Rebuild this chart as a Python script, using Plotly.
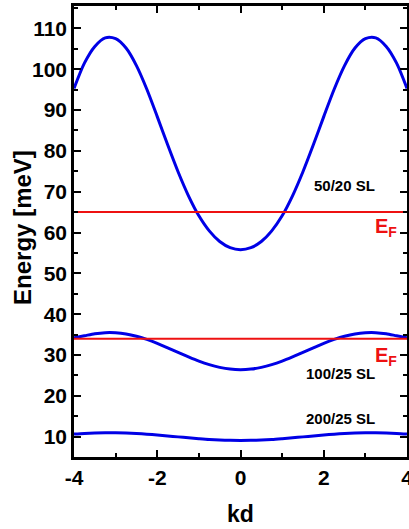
import plotly.graph_objects as go

kd = [-4.0, -3.75, -3.5, -3.25, -3.0, -2.75, -2.5, -2.25, -2.0, -1.75, -1.5, -1.25, -1.0, -0.75, -0.5, -0.25,
      0.0, 0.25, 0.5, 0.75, 1.0, 1.25, 1.5, 1.75, 2.0, 2.25, 2.5, 2.75, 3.0, 3.25, 3.5, 3.75, 4.0]
e_50_20 = [95.3, 101.5, 105.6, 107.7, 107.5, 105.2, 100.9, 95.1, 88.4, 81.5, 74.9, 69.0, 64.1, 60.4, 57.8, 56.3,
           55.8, 56.3, 57.8, 60.4, 64.1, 69.0, 74.9, 81.5, 88.4, 95.1, 100.9, 105.2, 107.5, 107.7, 105.6, 101.5, 95.3]
e_100_25 = [34.2, 34.7, 35.2, 35.47, 35.45, 35.16, 34.6, 33.8, 32.84, 31.76, 30.63, 29.52, 28.49, 27.62, 26.96, 26.54,
            26.4, 26.54, 26.96, 27.62, 28.49, 29.52, 30.63, 31.76, 32.84, 33.8, 34.6, 35.16, 35.45, 35.47, 35.2, 34.7, 34.2]
e_200_25 = [10.62, 10.78, 10.89, 10.94, 10.94, 10.88, 10.76, 10.6, 10.4, 10.17, 9.93, 9.7, 9.49, 9.3, 9.17, 9.08,
            9.05, 9.08, 9.17, 9.3, 9.49, 9.7, 9.93, 10.17, 10.4, 10.6, 10.76, 10.88, 10.94, 10.94, 10.89, 10.78, 10.62]
fermi_levels = [65.0, 34.0]
band_labels = ["50/20 SL", "100/25 SL", "200/25 SL"]
label_y = [71.6, 25.5, 14.5]
ef_label_y = [61.3, 29.6]
x_ticks = [-4, -2, 0, 2, 4]
x_ticktext = ["-4", "-2", "0", "2", "4"]
y_ticks = [10, 20, 30, 40, 50, 60, 70, 80, 90, 100, 110]

FONT = "Liberation Sans, Arial, sans-serif"
BLUE = "#0000e6"
RED = "#ee1111"

fig = go.Figure()
for ys in (e_50_20, e_100_25, e_200_25):
    fig.add_trace(go.Scatter(x=kd, y=ys, mode="lines", line=dict(color=BLUE, width=3, shape="spline", smoothing=0.8),
                             showlegend=False, hoverinfo="skip"))
for ef in fermi_levels:
    fig.add_trace(go.Scatter(x=[kd[0], kd[-1]], y=[ef, ef], mode="lines", line=dict(color=RED, width=2),
                             showlegend=False, hoverinfo="skip"))

for txt, yy in zip(band_labels, label_y):
    fig.add_annotation(x=3.28, y=yy, text="<b>" + txt + "</b>", showarrow=False, xanchor="right",
                       font=dict(family=FONT, size=15, color="black"))
for yy in ef_label_y:
    fig.add_annotation(x=3.8, y=yy, text="<b>E</b><sub><b>F</b></sub>", showarrow=False, xanchor="right",
                       font=dict(family=FONT, size=20, color=RED))

# axis titles
fig.add_annotation(xref="paper", yref="paper", x=0, y=0.508, xshift=-51, textangle=-90, showarrow=False,
                   xanchor="center", yanchor="middle",
                   text="<b>Energy [meV]</b>", font=dict(family=FONT, size=24, color="black"))
fig.add_annotation(xref="paper", yref="paper", x=0.5, y=0, yshift=-57, showarrow=False,
                   xanchor="center", yanchor="middle",
                   text="<b>kd</b>", font=dict(family=FONT, size=23, color="black"))

axis_common = dict(showline=True, linecolor="black", linewidth=2.5, mirror="ticks", ticks="inside",
                   tickwidth=2, ticklen=7, tickcolor="black", showgrid=False, zeroline=False, automargin=False,
                   tickfont=dict(family=FONT, size=21, color="black"), tickmode="array",
                   ticklabeloverflow="allow")
fig.update_xaxes(range=[-4, 4], tickvals=x_ticks, ticktext=["<b>" + t + "</b>" for t in x_ticktext],
                 minor=dict(dtick=1, tick0=0, ticks="inside", ticklen=4, tickwidth=2, tickcolor="black"),
                 **axis_common)
fig.update_yaxes(range=[5, 115.5], tickvals=y_ticks, ticktext=["<b>%d</b>" % v for v in y_ticks],
                 minor=dict(dtick=5, tick0=0, ticks="inside", ticklen=4, tickwidth=2, tickcolor="black"),
                 **axis_common)
fig.update_layout(width=409, height=529, margin=dict(l=74, r=2, t=6, b=72, autoexpand=False),
                  plot_bgcolor="white", paper_bgcolor="white")
fig.write_html("out.html", config={"displayModeBar": False},
               post_script="document.body.style.margin='0';document.body.style.overflow='hidden';")
